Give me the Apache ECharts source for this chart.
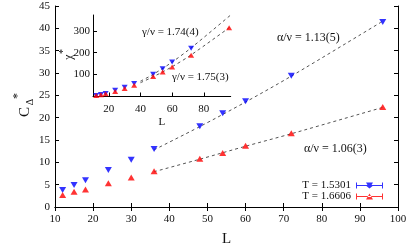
<!DOCTYPE html>
<html>
<head>
<meta charset="utf-8">
<script src="https://cdn.jsdelivr.net/npm/echarts@6/dist/echarts.min.js"></script>
<style>html,body{margin:0;padding:0;background:#fff}#c{width:411px;height:247px}</style>
</head>
<body>
<div id="c"></div>
<script>
// ---- data ----
const L = [12, 15, 18, 24, 30, 36, 48, 54, 60, 72, 96];
const cBlue = [3.8, 4.9, 6.0, 8.3, 10.6, 13.0, 18.1, 21.0, 23.7, 29.4, 41.4];
const cRed = [2.7, 3.4, 3.9, 5.3, 6.6, 8.0, 10.8, 12.1, 13.7, 16.5, 22.4];
const chiBlue = [5, 9, 14, 29, 42, 59, 101, 127, 158, 220, 373];
const chiRed = [4, 8, 12, 23, 36, 51, 91, 112, 135, 188, 314];
const fitMainL = [36, 48, 60, 72, 96];
const fitMainBlue = [12.8, 18.0, 23.5, 29.3, 41.6];
const fitMainRed = [7.9, 10.7, 13.6, 16.4, 22.3];
const fitInsetL = [40, 48, 60, 72, 97];
const fitInsetBlue = [70, 101, 157, 222, 372];
const fitInsetRed = [63, 90, 136, 190, 319];
const seriesNames = ['T = 1.5301', 'T = 1.6606'];
const mainXTicks = [10, 20, 30, 40, 50, 60, 70, 80, 90, 100];
const mainYTicks = [0, 5, 10, 15, 20, 25, 30, 35, 40, 45];
const insetXTicks = [20, 40, 60, 80];
const insetYTicks = [100, 200, 300];
const annMain = ['α/ν = 1.13(5)', 'α/ν = 1.06(3)'];
const annInset = ['γ/ν = 1.74(4)', 'γ/ν = 1.75(3)'];

const pair = (xs, ys) => xs.map((x, i) => [x, ys[i]]);
const FONT = '"Liberation Serif", "DejaVu Serif", serif';
const BLUE = '#0000ff', RED = '#ff0000', DASH = '#555555';

const iconDown = 'path://M0,0L1,0L1,2.5L26,2.5L26,0L27,0L27,6L26,6L26,3.5L16.6,3.5L13.5,6L10.4,3.5L1,3.5L1,6L0,6Z M10,0L17,0L13.5,6Z';
const iconUp = 'path://M0,0L1,0L1,2.5L26,2.5L26,0L27,0L27,6L26,6L26,3.5L1,3.5L1,6L0,6Z M10,6L17,6L13.5,0Z';

const axisBase = {
  axisLine: {show: true, lineStyle: {color: '#000', width: 1}},
  splitLine: {show: false},
};

const chart = echarts.init(document.getElementById('c'), null, {renderer: 'canvas'});
chart.setOption({
  animation: false,
  backgroundColor: '#fff',
  textStyle: {fontFamily: FONT},
  grid: [
    {left: 55, top: 6, width: 343, height: 201, containLabel: false, outerBoundsMode: 'none'},
    {left: 93, top: 15, width: 137.7, height: 81.5, containLabel: false, outerBoundsMode: 'none'}
  ],
  xAxis: [
    Object.assign({}, axisBase, {
      type: 'value', gridIndex: 0, position: 'bottom', min: 10, max: 100,
      axisTick: {show: true, inside: true, length: 4, customValues: mainXTicks, lineStyle: {color: '#000'}},
      axisLabel: {show: true, margin: 7, fontSize: 11, color: '#111', fontFamily: FONT, customValues: mainXTicks},
      name: 'L', nameLocation: 'middle', nameGap: 25,
      nameTextStyle: {fontSize: 15, color: '#111', fontFamily: FONT}
    }),
    Object.assign({}, axisBase, {
      type: 'value', gridIndex: 0, position: 'top', min: 10, max: 100,
      axisTick: {show: true, inside: true, length: 4, customValues: mainXTicks, lineStyle: {color: '#000'}},
      axisLabel: {show: false}
    }),
    Object.assign({}, axisBase, {
      type: 'value', gridIndex: 1, position: 'bottom', min: 10, max: 97,
      axisTick: {show: true, inside: true, length: 4, customValues: insetXTicks, lineStyle: {color: '#000'}},
      axisLabel: {show: true, margin: 7, fontSize: 11, color: '#111', fontFamily: FONT, customValues: insetXTicks},
      name: 'L', nameLocation: 'middle', nameGap: 20,
      nameTextStyle: {fontSize: 11, color: '#111', fontFamily: FONT}
    })
  ],
  yAxis: [
    Object.assign({}, axisBase, {
      type: 'value', gridIndex: 0, position: 'left', min: 0, max: 45, interval: 5,
      axisTick: {show: true, inside: true, length: 4, lineStyle: {color: '#000'}},
      axisLabel: {show: true, margin: 5, fontSize: 11, color: '#111', fontFamily: FONT, customValues: mainYTicks}
    }),
    Object.assign({}, axisBase, {
      type: 'value', gridIndex: 0, position: 'right', min: 0, max: 45, interval: 5,
      axisTick: {show: true, inside: true, length: 4, lineStyle: {color: '#000'}},
      axisLabel: {show: false}
    }),
    Object.assign({}, axisBase, {
      type: 'value', gridIndex: 1, position: 'left', min: 0, max: 372,
      axisTick: {show: true, inside: true, length: 4, customValues: insetYTicks, lineStyle: {color: '#000'}},
      axisLabel: {show: true, margin: 3, fontSize: 11, color: '#111', fontFamily: FONT, customValues: insetYTicks}
    })
  ],
  legend: {
    show: true, orient: 'vertical', right: 23, top: 175,
    align: 'right', itemWidth: 27, itemHeight: 6, itemGap: 0,
    selectedMode: false, symbolRotate: 0,
    textStyle: {fontSize: 11, color: '#111', fontFamily: FONT, lineHeight: 11, padding: [0, 0, 0, 0]},
    data: [
      {name: seriesNames[0], icon: iconDown, symbolRotate: 0, itemStyle: {color: BLUE}},
      {name: seriesNames[1], icon: iconUp, symbolRotate: 0, itemStyle: {color: RED}}
    ]
  },
  series: [
    {name: seriesNames[0], type: 'scatter', xAxisIndex: 0, yAxisIndex: 0, data: pair(L, cBlue),
      symbol: 'triangle', symbolRotate: 180, symbolSize: [7, 6], itemStyle: {color: BLUE}, z: 5},
    {name: seriesNames[1], type: 'scatter', xAxisIndex: 0, yAxisIndex: 0, data: pair(L, cRed),
      symbol: 'triangle', symbolSize: [7, 6], itemStyle: {color: RED}, z: 5},
    {type: 'line', xAxisIndex: 0, yAxisIndex: 0, data: pair(fitMainL, fitMainBlue), showSymbol: false, symbol: 'none',
      smooth: 0.3, lineStyle: {color: DASH, width: 1, type: [3, 3]}, z: 3},
    {type: 'line', xAxisIndex: 0, yAxisIndex: 0, data: pair(fitMainL, fitMainRed), showSymbol: false, symbol: 'none',
      smooth: 0.3, lineStyle: {color: DASH, width: 1, type: [3, 3]}, z: 3},
    {type: 'scatter', xAxisIndex: 2, yAxisIndex: 2, data: pair(L, chiBlue),
      symbol: 'triangle', symbolRotate: 180, symbolSize: [6, 5], itemStyle: {color: BLUE}, z: 5},
    {type: 'scatter', xAxisIndex: 2, yAxisIndex: 2, data: pair(L, chiRed),
      symbol: 'triangle', symbolSize: [6, 5], itemStyle: {color: RED}, z: 5},
    {type: 'line', xAxisIndex: 2, yAxisIndex: 2, data: pair(fitInsetL, fitInsetBlue), showSymbol: false, symbol: 'none',
      smooth: 0.3, lineStyle: {color: DASH, width: 1, type: [3, 3]}, z: 3},
    {type: 'line', xAxisIndex: 2, yAxisIndex: 2, data: pair(fitInsetL, fitInsetRed), showSymbol: false, symbol: 'none',
      smooth: 0.3, lineStyle: {color: DASH, width: 1, type: [3, 3]}, z: 3}
  ],
  graphic: [
    {type: 'group', x: 25, y: 112, rotation: Math.PI / 2, children: [
      {type: 'text', x: 0, y: 0, style: {text: 'C', font: '15px ' + FONT, fill: '#111', align: 'center', verticalAlign: 'middle'}},
      {type: 'text', x: 10, y: 5, style: {text: 'Δ', font: '10px ' + FONT, fill: '#111', align: 'center', verticalAlign: 'middle'}},
      {type: 'text', x: 16, y: -7, style: {text: '*', font: '12px ' + FONT, fill: '#111', align: 'center', verticalAlign: 'middle'}}
    ]},
    {type: 'group', x: 68.5, y: 57, rotation: Math.PI / 2, children: [
      {type: 'text', x: 0, y: 0, style: {text: 'χ', font: '12px ' + FONT, fill: '#111', align: 'center', verticalAlign: 'middle'}},
      {type: 'text', x: 5.5, y: -5.5, style: {text: '*', font: '10px ' + FONT, fill: '#111', align: 'center', verticalAlign: 'middle'}}
    ]},
    {type: 'text', x: 277, y: 38, style: {text: annMain[0], font: '12px ' + FONT, fill: '#111', align: 'left', verticalAlign: 'middle'}},
    {type: 'text', x: 304, y: 149, style: {text: annMain[1], font: '12px ' + FONT, fill: '#111', align: 'left', verticalAlign: 'middle'}},
    {type: 'text', x: 142, y: 32, style: {text: annInset[0], font: '11px ' + FONT, fill: '#111', align: 'left', verticalAlign: 'middle'}},
    {type: 'text', x: 172, y: 77.5, style: {text: annInset[1], font: '11px ' + FONT, fill: '#111', align: 'left', verticalAlign: 'middle'}}
  ]
});
</script>
</body>
</html>
